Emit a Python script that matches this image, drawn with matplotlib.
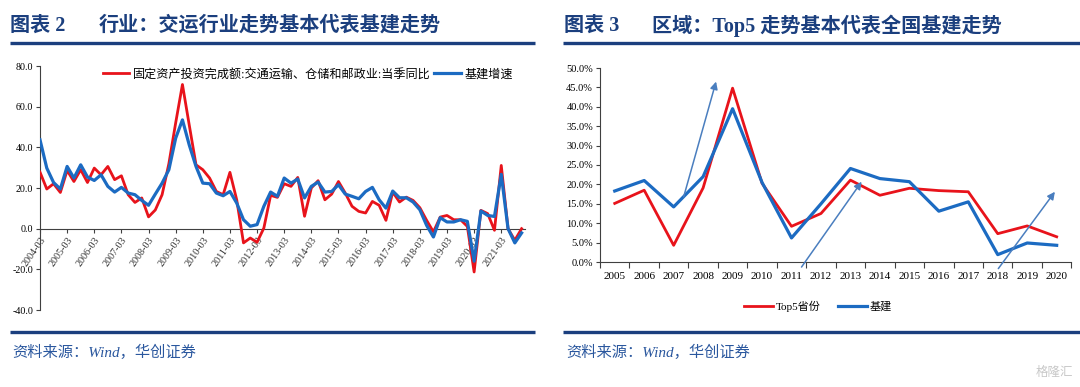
import matplotlib
matplotlib.use("Agg")
import matplotlib.pyplot as plt
from matplotlib.lines import Line2D
import numpy as np

plt.rcParams['font.family'] = ['Liberation Serif', 'Noto Sans CJK SC', 'DejaVu Sans']

# ---------------- Data: left chart (quarterly, 2004-03 .. 2021-12) ----------------
years_left = list(range(2004, 2022))
quarters = [f"{y}-{m:02d}" for y in years_left for m in (3, 6, 9, 12)]
tick_labels_left = [f"{y}-03" for y in years_left]

transport_yoy = [27.8, 19.5, 22.1, 17.8, 28.6, 23.2, 29.0, 22.7, 29.8, 26.5, 30.6, 24.1,
                 26.0, 16.7, 12.9, 15.1, 5.8, 9.2, 16.7, 32.0, 52.0, 70.9, 51.0, 31.4,
                 29.0, 24.9, 18.3, 16.7, 27.7, 14.2, -7.0, -4.6, -6.7, 0.3, 16.4, 15.4,
                 22.1, 20.8, 25.2, 6.1, 20.0, 23.6, 14.2, 17.0, 23.2, 17.5, 11.0, 8.5,
                 7.7, 13.4, 11.5, 4.1, 18.0, 13.1, 15.5, 13.9, 10.3, 4.1, -1.6, 5.7,
                 6.5, 4.4, 4.4, 1.1, -21.3, 9.0, 7.4, -0.8, 31.1, 0.0, -5.7, 0.0]
infra_growth = [43.7, 29.8, 22.7, 19.5, 30.6, 24.9, 31.4, 25.4, 23.7, 26.5, 20.8, 18.0,
                20.3, 17.5, 16.7, 13.9, 11.5, 17.0, 22.4, 29.0, 44.5, 53.5, 41.2, 30.6,
                22.4, 22.1, 17.5, 16.2, 18.3, 12.6, 4.4, 1.2, 2.0, 11.0, 18.0, 15.9,
                24.9, 22.4, 24.4, 15.1, 20.8, 22.9, 18.0, 18.3, 21.6, 17.0, 15.9, 14.7,
                18.3, 20.3, 14.2, 10.1, 18.5, 15.2, 15.2, 13.1, 9.3, 1.6, -4.1, 5.4,
                3.3, 3.3, 4.4, 3.6, -16.0, 8.7, 6.5, 6.0, 26.7, 0.0, -7.0, -2.1]
legend_left = ["固定资产投资完成额:交通运输、仓储和邮政业:当季同比", "基建增速"]

# ---------------- Data: right chart (annual, 2005 .. 2020) ----------------
years_right = [str(y) for y in range(2005, 2021)]
top5_prov = [15.1, 18.5, 4.3, 19.1, 44.8, 20.3, 9.2, 12.5, 21.1, 17.2, 19.0, 18.4,
             18.1, 7.3, 9.3, 6.5]
infra_nat = [18.3, 21.0, 14.2, 22.0, 39.5, 20.5, 6.2, 15.0, 24.1, 21.5, 20.7, 13.1,
             15.5, 1.9, 4.9, 4.3]
legend_right = ["Top5省份", "基建"]
# trend arrows (start year-position, start %, end year-position, end %)
arrow_x0 = [2007.34, 2011.34, 2018.02]
arrow_y0 = [16.8, -1.3, -1.7]
arrow_x1 = [2008.44, 2013.38, 2019.94]
arrow_y1 = [46.5, 20.7, 18.1]

title_left_a, title_left_b = "图表 2", "行业：交运行业走势基本代表基建走势"
title_right_a, title_right_b = "图表 3", "区域：Top5 走势基本代表全国基建走势"
source_text = "资料来源：Wind，华创证券"

RED = "#E8131B"
BLUE = "#1C6BC2"
NAVY = "#1B3F7E"
ARROW = "#4A7EBF"

W, H = 1080, 387
fig = plt.figure(figsize=(W / 100, H / 100), dpi=100)
fig.patch.set_facecolor("white")


def fx(px):
    return px / W


def fy(py):
    return 1 - py / H


def hline(x0, x1, y, lw=2.4, color=NAVY):
    fig.add_artist(Line2D([fx(x0), fx(x1)], [fy(y), fy(y)], transform=fig.transFigure,
                          color=color, lw=lw, solid_capstyle="butt"))


# titles
tfont = dict(fontsize=14.5, fontweight="bold", color=NAVY, va="center")
fig.text(fx(10), fy(26), title_left_a, **tfont)
fig.text(fx(99), fy(26), title_left_b, **tfont)
fig.text(fx(564), fy(26), title_right_a, **tfont)
fig.text(fx(652), fy(26), title_right_b, **tfont)
hline(10, 535, 43)
hline(563, 1080, 43)
hline(10, 535, 332)
hline(563, 1080, 332)
sfont = dict(fontsize=11, color="#2A579E", va="center", style="italic")
fig.text(fx(12), fy(352), source_text, **sfont)
fig.text(fx(566), fy(352), source_text, **sfont)
fig.text(fx(1073), fy(373), "格隆汇", fontsize=9, color="#C8C8C8", ha="right", va="center")

# ---------------- Left chart ----------------
ax1 = fig.add_axes([fx(40), fy(310), fx(525) - fx(40), fy(66) - fy(310)])
x = np.arange(len(quarters))
ax1.plot(x, transport_yoy, color=RED, lw=2.0, label=legend_left[0], zorder=3)
ax1.plot(x, infra_growth, color=BLUE, lw=2.3, label=legend_left[1], zorder=4)
ax1.set_xlim(0, len(quarters) - 0.5)
ax1.set_ylim(-40, 80)
ax1.set_yticks([-40, -20, 0, 20, 40, 60, 80])
ax1.set_yticklabels([f"{v:.1f}" for v in [-40, -20, 0, 20, 40, 60, 80]], fontsize=7.2)
ax1.set_xticks([quarters.index(t) for t in tick_labels_left])
ax1.set_xticklabels(tick_labels_left)
for s in ("top", "right"):
    ax1.spines[s].set_visible(False)
ax1.spines["bottom"].set_position(("data", 0))
ax1.spines["bottom"].set_color("#404040")
ax1.spines["left"].set_color("#404040")
ax1.tick_params(axis="y", direction="out", length=3, width=0.8, color="#404040", pad=2)
ax1.tick_params(axis="x", direction="out", length=3, width=0.8, color="#404040", pad=2,
                labelsize=7.3)
for lab in ax1.get_xticklabels():
    lab.set_rotation(55)
    lab.set_ha("right")
    lab.set_va("top")
    lab.set_rotation_mode("anchor")
    lab.set_fontsize(7.3)
    lab.set_color("#333333")
ax1.patch.set_alpha(0)
leg1 = ax1.legend(loc="upper right", bbox_to_anchor=(0.985, 1.01), ncol=2, frameon=False,
                  fontsize=8.7, handlelength=2.2, handletextpad=0.3, columnspacing=0.3,
                  borderaxespad=0.0)

# ---------------- Right chart ----------------
ax2 = fig.add_axes([fx(600), fy(262), fx(1071.4) - fx(600), fy(68) - fy(262)])
xr = np.arange(len(years_right))
ax2.plot(xr, top5_prov, color=RED, lw=2.0, label=legend_right[0], zorder=3)
ax2.plot(xr, infra_nat, color=BLUE, lw=2.3, label=legend_right[1], zorder=4)
ax2.set_xlim(-0.5, len(years_right) - 0.5)
ax2.set_ylim(0, 50)
ax2.set_yticks(np.arange(0, 51, 5))
ax2.set_yticklabels([f"{v:.1f}%" for v in np.arange(0, 51, 5)], fontsize=7.5)
ax2.set_xticks(xr)
ax2.set_xticklabels(years_right, fontsize=8)
ax2.set_xticks(np.arange(-0.5, len(years_right), 1.0), minor=True)
ax2.tick_params(axis="x", which="major", length=0, pad=7)
ax2.tick_params(axis="x", which="minor", direction="out", length=4, width=0.8, color="#404040")
ax2.tick_params(axis="y", direction="out", length=3, width=0.8, color="#404040", pad=2)
for s in ("top", "right"):
    ax2.spines[s].set_visible(False)
ax2.spines["bottom"].set_color("#404040")
ax2.spines["left"].set_color("#404040")
ax2.patch.set_alpha(0)
for a0, b0, a1, b1 in zip(arrow_x0, arrow_y0, arrow_x1, arrow_y1):
    ax2.annotate("", xy=(a1 - 2005, b1), xytext=(a0 - 2005, b0),
                 arrowprops=dict(arrowstyle="-|>", color=ARROW, lw=1.1, mutation_scale=11,
                                 shrinkA=0, shrinkB=0),
                 annotation_clip=False, zorder=5)
leg2 = ax2.legend(loc="center", ncol=2, frameon=False,
                  fontsize=8, handlelength=2.6, handletextpad=0.3, columnspacing=1.5)
leg2.set_bbox_to_anchor((fx(818), fy(306)), transform=fig.transFigure)

fig.savefig("out.png", dpi=100, facecolor="white")
